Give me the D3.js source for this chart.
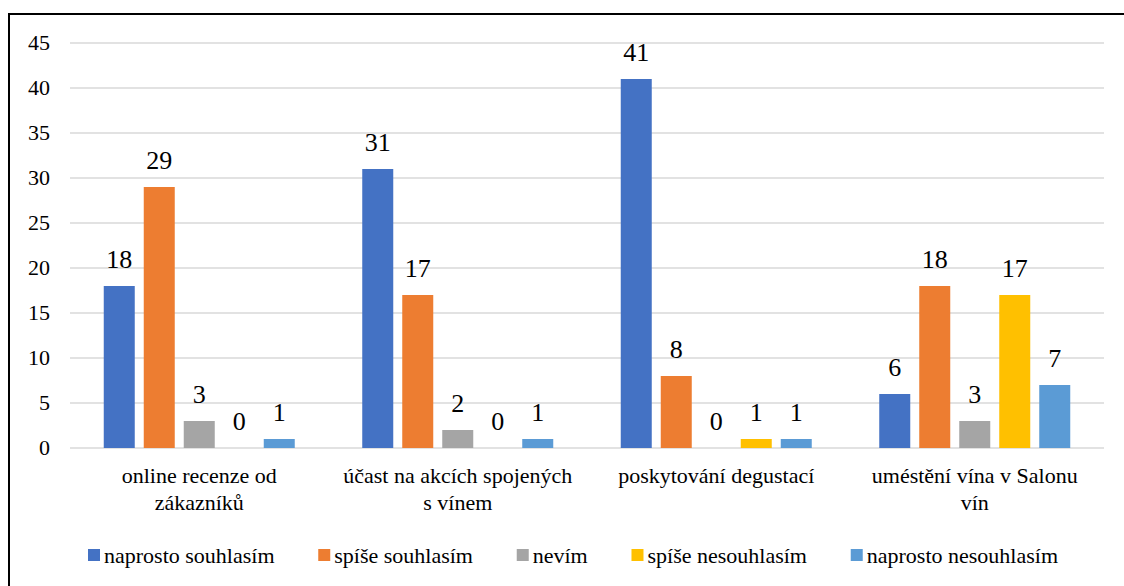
<!DOCTYPE html>
<html lang="cs">
<head>
<meta charset="utf-8">
<script src="https://cdn.jsdelivr.net/npm/d3@7"></script>
</head>
<body style="margin:0">
<script>
const width = 1124;
const height = 586;

// data
const categories = [
  ["online recenze od", "zákazníků"],
  ["účast na akcích spojených", "s vínem"],
  ["poskytování degustací"],
  ["uméstění vína v Salonu", "vín"]
];
const seriesNames = [
  "naprosto souhlasím",
  "spíše souhlasím",
  "nevím",
  "spíše nesouhlasím",
  "naprosto nesouhlasím"
];
const naprostoSouhlasim = [18, 31, 41, 6];
const spiseSouhlasim = [29, 17, 8, 18];
const nevim = [3, 2, 0, 3];
const spiseNesouhlasim = [0, 0, 1, 17];
const naprostoNesouhlasim = [1, 1, 1, 7];
const yTicks = [0, 5, 10, 15, 20, 25, 30, 35, 40, 45];
const colors = ["#4472C4", "#ED7D31", "#A5A5A5", "#FFC000", "#5B9BD5"];

const values = [naprostoSouhlasim, spiseSouhlasim, nevim, spiseNesouhlasim, naprostoNesouhlasim];

const serif = "Liberation Serif";

const svg = d3.select("body").append("svg")
  .attr("width", width)
  .attr("height", height)
  .style("font-family", serif);

// outer frame (right and bottom edges fall outside the picture)
svg.append("rect")
  .attr("x", 9).attr("y", 14)
  .attr("width", 1130).attr("height", 600)
  .attr("fill", "none")
  .attr("stroke", "#000")
  .attr("stroke-width", 2);

const x0 = d3.scaleBand()
  .domain(d3.range(categories.length))
  .range([70, 1104]);

const x1 = d3.scaleBand()
  .domain(d3.range(seriesNames.length))
  .range([0, 200])
  .paddingInner(0.225)
  .paddingOuter(0.1125);

const y = d3.scaleLinear().domain([0, 45]).range([448, 43]);

// gridlines
svg.append("g")
  .selectAll("line")
  .data(yTicks)
  .join("line")
  .attr("x1", 70).attr("x2", 1104)
  .attr("y1", d => y(d)).attr("y2", d => y(d))
  .attr("stroke", "#d9d9d9")
  .attr("stroke-width", 1.5);

// y tick labels
yTicks.forEach(d => {
  svg.append("text")
    .attr("x", 50)
    .attr("y", y(d) + 7)
    .attr("text-anchor", "end")
    .attr("font-size", 22)
    .style("font-family", serif)
    .text(d);
});

// bars
const groups = svg.append("g")
  .selectAll("g")
  .data(categories)
  .join("g")
  .attr("transform", (d, i) => `translate(${x0(i) + x0.bandwidth() / 2 - 100},0)`);

groups.selectAll("rect")
  .data((d, i) => values.map((s, j) => ({ s: j, v: s[i] })))
  .join("rect")
  .attr("x", d => x1(d.s))
  .attr("width", x1.bandwidth())
  .attr("y", d => y(d.v))
  .attr("height", d => y(0) - y(d.v))
  .attr("fill", d => colors[d.s]);

groups.each(function (c, i) {
  const g = d3.select(this);
  values.forEach((s, j) => {
    g.append("text")
      .attr("x", x1(j) + x1.bandwidth() / 2)
      .attr("y", y(s[i]) - 18)
      .attr("text-anchor", "middle")
      .attr("font-size", 26)
      .style("font-family", serif)
      .text(s[i]);
  });
});

// category labels
categories.forEach((lines, i) => {
  lines.forEach((line, k) => {
    svg.append("text")
      .attr("x", x0(i) + x0.bandwidth() / 2)
      .attr("y", 483 + k * 27)
      .attr("text-anchor", "middle")
      .attr("font-size", 22)
      .style("font-family", serif)
      .text(line);
  });
});

// legend: spread items between x=88 and x=1058 like the original
const legendG = svg.append("g");
const items = seriesNames.map((name, i) => {
  const sw = legendG.append("rect")
    .attr("y", 549)
    .attr("width", 12).attr("height", 12)
    .attr("fill", colors[i]);
  const t = legendG.append("text")
    .attr("y", 563)
    .attr("font-size", 22)
    .style("font-family", serif)
    .text(name);
  return { sw, t, w: 16 + t.node().getComputedTextLength() };
});
const totalW = d3.sum(items, d => d.w);
const gap = Math.max(12, (970 - totalW) / (items.length - 1));
let lx = 88;
items.forEach(d => {
  d.sw.attr("x", lx);
  d.t.attr("x", lx + 16);
  lx += d.w + gap;
});
</script>
</body>
</html>
